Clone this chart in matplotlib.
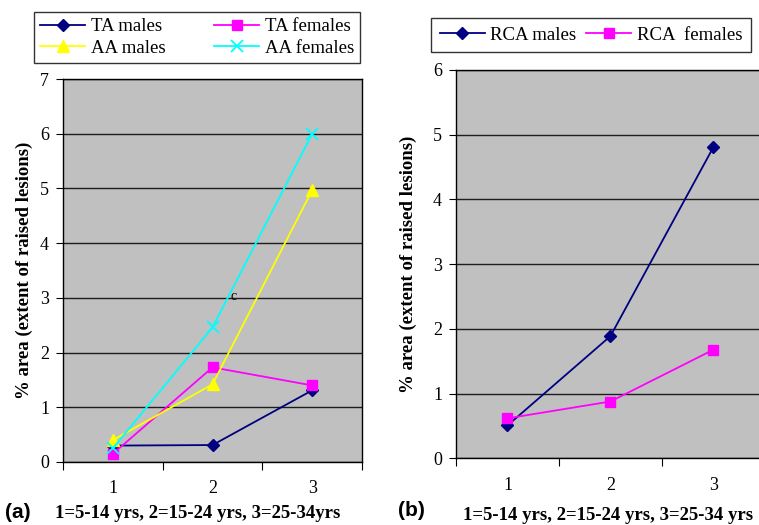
import matplotlib
matplotlib.use('Agg')
import matplotlib.pyplot as plt
import numpy as np

# age groups (category labels on the x axis)
groups = ['1', '2', '3']

# panel (a)
ta_males = [0.30, 0.31, 1.31]
ta_females = [0.15, 1.73, 1.40]
aa_males = [0.40, 1.42, 4.97]
aa_females = [0.25, 2.46, 6.00]

# panel (b)
rca_males = [0.51, 1.89, 4.81]
rca_females = [0.62, 0.88, 1.68]

plt.rcParams['font.family'] = ['Liberation Serif', 'DejaVu Serif']

NAVY = '#000080'
MAGENTA = '#FF00FF'
YELLOW = '#FFFF00'
CYAN = '#00FFFF'

fig = plt.figure(figsize=(7.59, 5.25), dpi=100)
ax1 = fig.add_axes([0.083, 0.12, 0.394, 0.7295])
ax2 = fig.add_axes([0.6008, 0.1267, 0.407, 0.74])

x = np.arange(1, len(groups) + 1)


def style(ax, ymax):
    ax.set_facecolor('#C0C0C0')
    ax.set_xlim(0.5, len(groups) + 0.5)
    ax.set_ylim(0, ymax)
    ax.set_yticks(range(ymax + 1))
    ax.yaxis.grid(True, color='black', linewidth=1.0, alpha=0.85)
    ax.set_axisbelow(True)
    ax.set_xticks(np.arange(0.5, len(groups) + 1, 1.0))
    ax.set_xticklabels([])
    ax.set_xticks(x, minor=True)
    ax.set_xticklabels(groups, minor=True)
    ax.tick_params(axis='x', which='major', length=6, direction='out', color='black')
    ax.tick_params(axis='x', which='minor', length=0, pad=13, labelsize=13)
    ax.tick_params(axis='y', length=5, direction='out', labelsize=13, pad=5)
    for s in ax.spines.values():
        s.set_color('black')
        s.set_linewidth(1.0)
    ax.set_ylabel('% area (extent of raised lesions)', fontweight='bold', fontsize=13.5)


style(ax1, 7)
style(ax2, 6)

lw = 1.3
l1, = ax1.plot(x, ta_males, '-D', color=NAVY, markersize=6, lw=lw, label='TA males')
l2, = ax1.plot(x, ta_females, '-s', color=MAGENTA, markersize=7, lw=lw, label='TA females')
l3, = ax1.plot(x, aa_males, '-^', color=YELLOW, markersize=8, lw=lw, label='AA males')
l4, = ax1.plot(x, aa_females, '-x', color=CYAN, markersize=9, mew=1.3, lw=lw, label='AA females')
ax1.text(2.18, 3.02, 'c', fontsize=10, va='center')
ax1.yaxis.set_label_coords(-0.10, 0.5)

r1, = ax2.plot(x, rca_males, '-D', color=NAVY, markersize=6, lw=lw, label='RCA males')
r2, = ax2.plot(x, rca_females, '-s', color=MAGENTA, markersize=7, lw=lw, label='RCA  females')
ax2.yaxis.set_label_coords(-0.126, 0.5)

leg1 = fig.legend([l1, l3, l2, l4], ['TA males', 'AA males', 'TA females', 'AA females'],
                  ncol=2, loc='center', bbox_to_anchor=(197 / 759, 1 - 37.5 / 525),
                  frameon=True, fancybox=False, edgecolor='black', fontsize=13.5,
                  handlelength=2.4, handletextpad=0.3, columnspacing=2.6,
                  labelspacing=0.25, borderpad=0.3)
leg1.get_frame().set_linewidth(1.0)
leg2 = fig.legend([r1, r2], ['RCA males', 'RCA  females'],
                  ncol=2, loc='center', bbox_to_anchor=(591 / 759, 1 - 35 / 525),
                  frameon=True, fancybox=False, edgecolor='black', fontsize=13.5,
                  handlelength=2.4, handletextpad=0.3, columnspacing=0.5,
                  borderpad=0.45)
leg2.get_frame().set_linewidth(1.0)

fig.text(5 / 759, 1 - 512 / 525, '(a)', family=['Liberation Sans', 'DejaVu Sans'],
         fontweight='bold', fontsize=15, va='center')
fig.text(55 / 759, 1 - 514 / 525, '1=5-14 yrs, 2=15-24 yrs, 3=25-34yrs',
         fontweight='bold', fontsize=13.5, va='center')
fig.text(398 / 759, 1 - 511 / 525, '(b)', family=['Liberation Sans', 'DejaVu Sans'],
         fontweight='bold', fontsize=15, va='center')
fig.text(463 / 759, 1 - 516 / 525, '1=5-14 yrs, 2=15-24 yrs, 3=25-34 yrs',
         fontweight='bold', fontsize=13.5, va='center')

fig.savefig('out.png', dpi=100)
